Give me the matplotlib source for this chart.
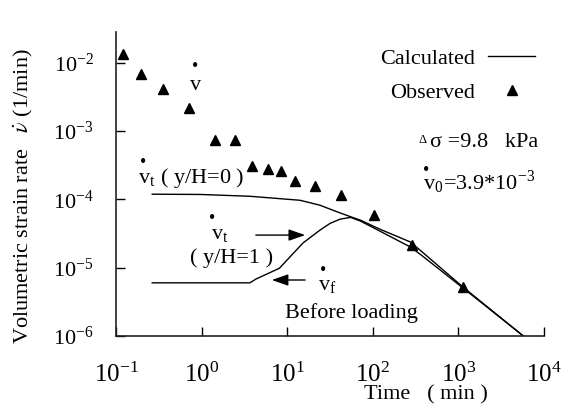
"""
Volumetric strain rate vs time: observed points and calculated curves
"""

import matplotlib
matplotlib.use("Agg")
import matplotlib.pyplot as plt
from matplotlib.lines import Line2D

# observed strain rate (triangles)
obs_time = [0.12, 0.196, 0.357, 0.713, 1.42, 2.46, 3.91, 5.9, 8.4, 12.2,
            21.1, 42.9, 104, 289, 1122]
obs_rate = [1.36e-2, 6.9e-3, 4.1e-3, 2.2e-3, 7.5e-4, 7.5e-4, 3.1e-4, 2.75e-4,
            2.58e-4, 1.85e-4, 1.57e-4, 1.15e-4, 5.9e-5, 2.14e-5, 5.3e-6]

# calculated, y/H = 0
top_time = [0.265, 0.96, 3.67, 14.1, 24.2, 37.9, 58.8, 72, 121, 272, 356,
            1132, 5730]
top_rate = [1.19e-4, 1.18e-4, 1.11e-4, 9.7e-5, 8.2e-5, 6.6e-5, 5.4e-5,
            4.95e-5, 3.66e-5, 2.39e-5, 1.81e-5, 5.2e-6, 1.0e-6]

# calculated, y/H = 1
bot_time = [0.265, 3.67, 4.3, 8.1, 15.3, 24.2, 31.6, 41.4, 55, 72, 121,
            272, 356, 1132, 5730]
bot_rate = [6.0e-6, 6.0e-6, 6.8e-6, 9.8e-6, 2.3e-5, 3.55e-5, 4.44e-5,
            5.13e-5, 5.45e-5, 4.8e-5, 3.43e-5, 2.02e-5, 1.58e-5, 5.04e-6,
            1.0e-6]

# arrows: (tail, tip)
arrow_right = [(4.3, 3.0e-5), (16.2, 3.0e-5)]
arrow_left = [(16.2, 6.6e-6), (6.6, 6.6e-6)]

x_ticks = [1e-1, 1e0, 1e1, 1e2, 1e3, 1e4]
y_ticks = [1e-6, 1e-5, 1e-4, 1e-3, 1e-2]

plt.rcParams['font.family'] = ['Liberation Serif', 'DejaVu Serif']
plt.rcParams['mathtext.fontset'] = 'stix'
plt.rcParams['axes.unicode_minus'] = False
plt.rcParams['font.size'] = 16


def dotted_v(ax, x, y, text, dot_x, dot_y):
    """Write a 'v' style label with a separate dot above it"""
    ax.text(x, y, text, transform=ax.transAxes, va='baseline', ha='left',
            clip_on=False)
    ax.text(dot_x, dot_y, "\u2022", transform=ax.transAxes, fontsize=13,
            ha='center', va='center', clip_on=False)


def make_plot(filename="out.png"):
    fig = plt.figure(figsize=(5.7, 4.05), dpi=100)
    ax = fig.add_axes([0.2035, 0.1704, 0.7509, 0.7506])

    ax.plot(top_time, top_rate, color='k', lw=1.0)
    ax.plot(bot_time, bot_rate, color='k', lw=1.0)
    ax.plot(obs_time, obs_rate, ls='none', marker='^', ms=7.5, color='k')

    for tail, tip in (arrow_right, arrow_left):
        ax.annotate('', xy=tip, xytext=tail,
                    arrowprops=dict(arrowstyle='-|>,head_length=1.0,head_width=0.35',
                                    color='k', lw=1.0, shrinkA=0, shrinkB=0,
                                    mutation_scale=10))

    ax.set_xscale('log')
    ax.set_yscale('log')
    ax.set_xlim(1e-1, 1e4)
    ax.set_ylim(1e-6, 10 ** -1.55)
    ax.set_xticks(x_ticks)
    ax.set_yticks(y_ticks)
    ax.minorticks_off()
    ax.tick_params(axis='x', direction='in', length=6.5, width=1.0, pad=19,
                   labelsize=18)
    ax.tick_params(axis='y', direction='in', length=6.5, width=1.0, pad=16,
                   labelsize=16)
    for side in ('top', 'right'):
        ax.spines[side].set_visible(False)
    for side in ('left', 'bottom'):
        ax.spines[side].set_linewidth(1.2)
        ax.spines[side].set_color('#222222')

    ax.set_ylabel(r"Volumetric strain rate   $\dot{\nu}$ (1/min)")
    ax.yaxis.set_label_coords(-0.189, 0.46)
    ax.set_xlabel("Time   ( min )")
    ax.xaxis.set_label_coords(0.723, -0.163)

    # legend
    handles = [Line2D([], [], color='k', lw=1.0),
               Line2D([], [], ls='none', marker='^', ms=7.5, color='k')]
    ax.legend(handles, ["Calculated", "Observed"], loc='upper right',
              bbox_to_anchor=(0.979, 0.945), frameon=False, markerfirst=False,
              handlelength=2.1, handletextpad=0.6, labelspacing=0.6,
              borderpad=0, borderaxespad=0, numpoints=1)

    ax.text(0.716, 0.645, "\u0394", transform=ax.transAxes, fontsize=9,
            ha='center', va='center', clip_on=False)
    ax.text(0.733, 0.622, "\u03c3 =9.8   kPa", transform=ax.transAxes,
            va='baseline', clip_on=False)
    dotted_v(ax, 0.717, 0.480, r"v$_{\mathregular{0}}$=3.9*10$^{\mathregular{-3}}$",
             0.724, 0.544)

    # curve labels
    dotted_v(ax, 0.173, 0.809, "v", 0.185, 0.885)
    dotted_v(ax, 0.051, 0.503, r"v$_{\mathregular{t}}$ ( y/H=0 )", 0.063, 0.572)
    dotted_v(ax, 0.222, 0.319, r"v$_{\mathregular{t}}$", 0.224, 0.385)
    ax.text(0.173, 0.240, "( y/H=1 )", transform=ax.transAxes, va='baseline')
    dotted_v(ax, 0.472, 0.151, r"v$_{\mathregular{f}}$", 0.483, 0.215)
    ax.text(0.395, 0.059, "Before loading", transform=ax.transAxes,
            va='baseline')

    fig.savefig(filename, dpi=100)
    plt.close(fig)


if __name__ == "__main__":
    make_plot()
